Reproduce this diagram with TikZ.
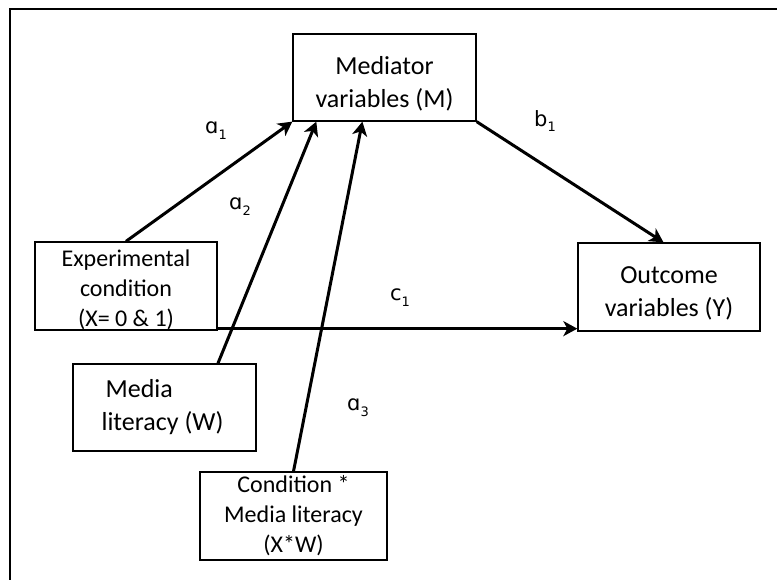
\documentclass[tikz,border=0pt]{standalone}
\usepackage{fontspec}
\setmainfont{Carlito}
\newfontfamily\lblfont{DejaVu Sans}
\usetikzlibrary{calc, arrows.meta}

\tikzset{
  box/.style={draw, line width=1.3pt, align=center, inner sep=0pt},
  bigbox/.style={box, font=\fontsize{26}{33}\selectfont},
  smallbox/.style={box, font=\fontsize{24}{30}\selectfont},
  path/.style={line width=3pt, -{Stealth[length=14pt, width=15pt, inset=4pt]}},
  coef/.style={font=\lblfont\fontsize{21}{21}\selectfont}
}
\newcommand{\cf}[2]{#1\raisebox{-0.28em}{\fontsize{13}{13}\selectfont #2}}
\newcommand{\topgap}[1]{\rule{0pt}{#1}}

\begin{document}
\begin{tikzpicture}[x=1pt, y=-1pt]
  \useasboundingbox (0,0) rectangle (777,580);
  \draw[line width=2pt] (10,580) -- (10,9) -- (777,9);

  \node[bigbox, minimum width=183pt, minimum height=87pt] (med) at (384.5,77.5) {\topgap{30pt}Mediator\\variables (M)};
  \node[smallbox, minimum width=182pt, minimum height=88pt] (exp) at (126,286) {\topgap{24pt}Experimental\\condition\\(X= 0 \& 1)};
  \node[bigbox, minimum width=183pt, minimum height=87pt, align=left] (lit) at (164.5,407.5) {Media\\\hspace*{-4pt}literacy (W)};
  \node[smallbox, minimum width=187pt, minimum height=88pt] (cond) at (293.5,516) {Condition *\\Media literacy\\(X*W)};
  \node[bigbox, minimum width=182pt, minimum height=88pt] (out) at (669,287) {\topgap{30pt}Outcome\\variables (Y)};

  \draw[path] (exp.north) -- (med.south west);
  \draw[path] ($(lit.north west)!0.79!(lit.north east)$) -- ($(med.south west)!0.13!(med.south east)$);
  \draw[path] (cond.north) -- ($(med.south west)!0.38!(med.south east)$);
  \draw[path] (med.south east) -- ($(out.north west)!0.47!(out.north east)$);
  \draw[path] ($(exp.south east)+(0,-2)$) -- ($(out.south west)+(0,-3)$);

  \node[coef] (a1) at (216,131) {\cf{ɑ}{1}};
  \node[coef] (a2) at (240,207) {\cf{ɑ}{2}};
  \node[coef] (a3) at (358,408) {\cf{ɑ}{3}};
  \node[coef] (b1) at (545,121) {\cf{b}{1}};
  \node[coef] (c1) at (400,298) {\cf{c}{1}};
\end{tikzpicture}
\end{document}
